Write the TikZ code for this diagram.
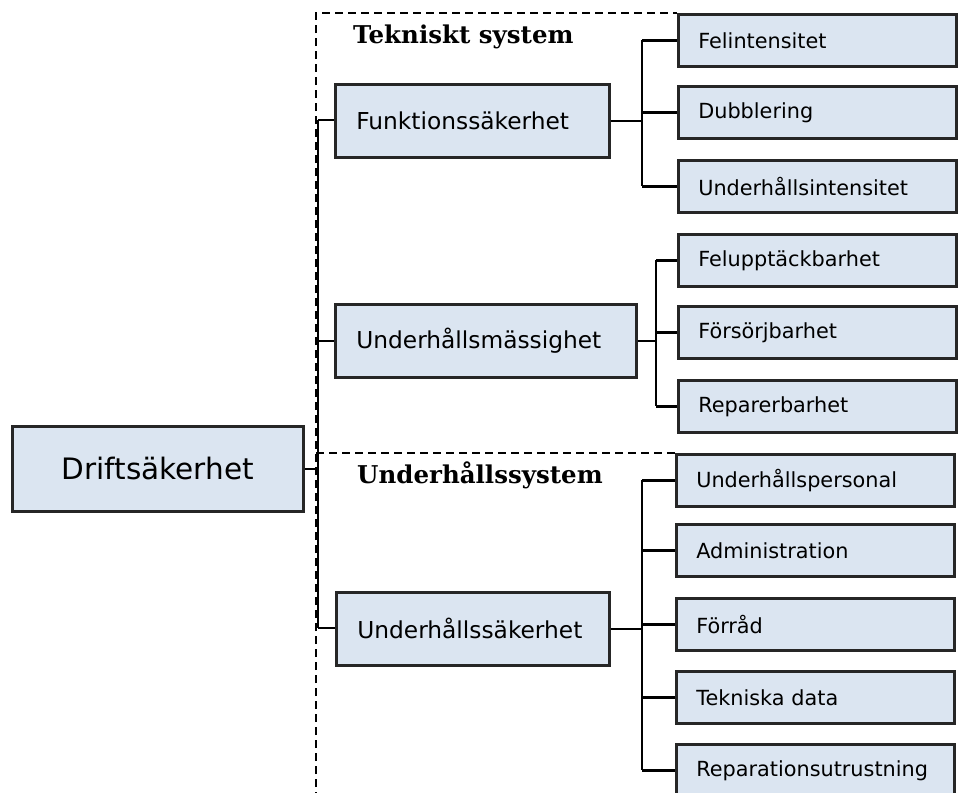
\documentclass[tikz,border=0pt]{standalone}
\usepackage{fontspec}
\setmainfont{DejaVu Sans}
\newfontfamily\headfont{DejaVu Serif}
\definecolor{boxfill}{HTML}{DBE5F1}
\definecolor{boxline}{HTML}{262626}
\begin{document}
\begin{tikzpicture}[x=1pt,y=-1pt,
  box/.style={draw=boxline, line width=2.6pt, fill=boxfill, rectangle,
    inner ysep=0pt, anchor=north west, align=left},
  rootbox/.style={box, inner xsep=0pt, align=center, minimum width=291pt,
    minimum height=85pt, font=\fontsize{29.5}{30}\selectfont},
  midbox/.style={box, inner xsep=21pt, minimum height=73pt,
    font=\fontsize{23.3}{24}\selectfont},
  leaf/.style={box, inner xsep=20pt, text width=238pt, minimum height=52pt,
    font=\fontsize{20.8}{21}\selectfont},
  wire/.style={line width=2.6pt, black},
  frame/.style={line width=2.4pt, black, dash pattern=on 8pt off 5pt},
  heading/.style={anchor=west, inner sep=0pt,
    font=\headfont\bfseries\fontsize{24.5}{25}\selectfont}]
\useasboundingbox (0,0) rectangle (960,792);

% dashed system frame and divider
\coordinate (fb) at (316,800);
\coordinate (ft) at (316,13);
\coordinate (fr) at (677,13);
\coordinate (dl) at (316,453);
\coordinate (dr) at (675,453);
\draw[frame] (fb) -- (ft) -- (fr);
\draw[frame] (dl) -- (dr);

\node[heading] (h1) at (353,37) {Tekniskt system};
\node[heading] (h2) at (357,475) {Underhållssystem};

% boxes
\node[rootbox] (drift) at (11,425) {Driftsäkerhet};

\node[midbox, text width=232pt] (funk) at (334,83) {Funktionssäkerhet};
\node[midbox, text width=259pt] (umass) at (334,303) {Underhållsmässighet};
\node[midbox, text width=231pt] (usak) at (335,591) {Underhållssäkerhet};

\node[leaf] (l1) at (677,13) {Felintensitet};
\node[leaf] (l2) at (677,85) {Dubblering};
\node[leaf] (l3) at (677,159) {Underhållsintensitet};
\node[leaf] (l4) at (677,233) {Felupptäckbarhet};
\node[leaf] (l5) at (677,305) {Försörjbarhet};
\node[leaf] (l6) at (677,379) {Reparerbarhet};
\node[leaf] (l7) at (675,453) {Underhållspersonal};
\node[leaf] (l8) at (675,523) {Administration};
\node[leaf] (l9) at (675,597) {Förråd};
\node[leaf] (l10) at (675,670) {Tekniska data};
\node[leaf] (l11) at (675,743) {Reparationsutrustning};

% main trunk
\coordinate (t0) at (318,120);
\coordinate (t1) at (318,628);
\draw[wire] (t0) -- (t1);
\draw[wire] (drift.east) -- (drift.east -| t0);
\draw[wire] (t0) -- (t0 -| funk.west);
\draw[wire] (umass.west -| t0) -- (umass.west);
\draw[wire] (t1) -- (t1 -| usak.west);

% branch of Funktionssäkerhet
\coordinate (b1) at (642,120);
\draw[wire] (funk.east) -- (funk.east -| b1);
\draw[wire] (l1.west -| b1) -- (l3.west -| b1);
\foreach \n in {l1,l2,l3} \draw[wire] (\n.west -| b1) -- (\n.west);

% branch of Underhållsmässighet
\coordinate (b2) at (656,339);
\draw[wire] (umass.east) -- (umass.east -| b2);
\draw[wire] (l4.west -| b2) -- (l6.west -| b2);
\foreach \n in {l4,l5,l6} \draw[wire] (\n.west -| b2) -- (\n.west);

% branch of Underhållssäkerhet
\coordinate (b3) at (642,628);
\draw[wire] (usak.east) -- (usak.east -| b3);
\draw[wire] (l7.west -| b3) -- (l11.west -| b3);
\foreach \n in {l7,l8,l9,l10,l11} \draw[wire] (\n.west -| b3) -- (\n.west);
\end{tikzpicture}
\end{document}
